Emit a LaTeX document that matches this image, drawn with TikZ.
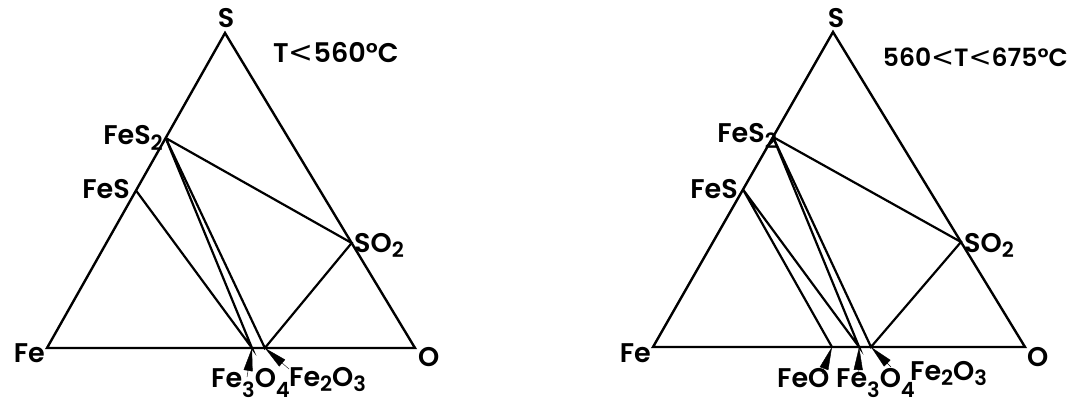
\documentclass[tikz,border=0pt]{standalone}
\usepackage{fontspec}
\setmainfont{Poppins}[UprightFont={* SemiBold}]
\newfontfamily\ltfont{DejaVu Sans}[Scale=1.1]
\usetikzlibrary{arrows.meta,calc}
\newcommand{\chsub}[2][0.22em]{\raisebox{-#1}{\fontsize{21}{21}\selectfont #2}}
\newcommand{\lt}{{\ltfont<}}
\tikzset{edge/.style={line width=2.4pt,line join=miter},tie/.style={line width=2.2pt},
 lbl/.style={inner sep=0pt,font=\fontsize{27}{30}\selectfont},
 heading/.style={inner sep=0pt,font=\fontsize{27}{30}\selectfont},
 pointer/.style={-{Triangle[length=23pt,width=9pt]},line width=.4pt}}

\begin{document}
\begin{tikzpicture}[x=1pt,y=-1pt]
\useasboundingbox (0,0) rectangle (1075,406);
% T < 560 C
\coordinate (lFe) at (47,348);
\coordinate (lO) at (415,348);
\coordinate (lS) at (225,33);
\coordinate (lFeSii) at ($(lFe)!2/3!(lS)$);
\coordinate (lFeS) at ($(lFe)!1/2!(lS)$);
\coordinate (lSOii) at ($(lS)!2/3!(lO)$);
\coordinate (lFeiiiOiv) at ($(lFe)!.557!(lO)$);
\coordinate (lFeiiOiii) at ($(lFe)!.592!(lO)$);
\draw[edge] (lFe)--(lO)--(lS)--cycle;
\draw[tie] (lFeSii)--(lSOii)--(lFeiiOiii)--(lFeSii);
\draw[tie] (lFeSii)--(lFeiiiOiv)--(lFeS);
\node[lbl,anchor=base] (llS) at (226,28) {S};
\node[lbl,anchor=base east] (llFe) at (45,362) {Fe};
\node[lbl,anchor=base west] (llO) at (418,366) {O};
\node[heading,anchor=base west] (ltitle) at (273,63) {T\lt560°C};
\node[lbl,anchor=base east] (llFeSii) at (163,145) {FeS\chsub{2}};
\node[lbl,anchor=base east] (llFeS) at (130,198) {FeS};
\node[lbl,anchor=base west] (llSOii) at (354,252) {SO\chsub{2}};
\node[lbl,anchor=base west] (llFeiiiOiv) at (211,387) {Fe\chsub[.38em]{3}O\chsub[.38em]{4}};
\node[lbl,anchor=base west] (llFeiiOiii) at (289,386) {Fe\chsub{2}O\chsub{3}};
\coordinate (lpFeiiiOiv) at (247,377);
\coordinate (lpFeiiOiii) at (289,369);
\draw[pointer] (lpFeiiiOiv)--(lFeiiiOiv);
\draw[pointer] (lpFeiiOiii)--(lFeiiOiii);
% 560 < T < 675 C
\coordinate (rFe) at (653,347);
\coordinate (rO) at (1025,347);
\coordinate (rS) at (833,32);
\coordinate (rFeSii) at ($(rFe)!2/3!(rS)$);
\coordinate (rFeS) at ($(rFe)!1/2!(rS)$);
\coordinate (rSOii) at ($(rS)!2/3!(rO)$);
\coordinate (rFeO) at ($(rFe)!.481!(rO)$);
\coordinate (rFeiiiOiv) at ($(rFe)!.554!(rO)$);
\coordinate (rFeiiOiii) at ($(rFe)!.586!(rO)$);
\draw[edge] (rFe)--(rO)--(rS)--cycle;
\draw[tie] (rFeSii)--(rSOii)--(rFeiiOiii)--(rFeSii);
\draw[tie] (rFeSii)--(rFeiiiOiv)--(rFeS)--(rFeO);
\node[lbl,anchor=base] (rlS) at (836,28) {S};
\node[lbl,anchor=base east] (rlFe) at (651,362) {Fe};
\node[lbl,anchor=base west] (rlO) at (1027,366) {O};
\node[heading,anchor=base east,font=\fontsize{25}{30}\selectfont] (rtitle) at (1068,67) {560\lt T\lt 675°C};
\node[lbl,anchor=base east] (rlFeSii) at (777,143) {FeS\chsub{2}};
\node[lbl,anchor=base east] (rlFeS) at (738,198) {FeS};
\node[lbl,anchor=base west] (rlSOii) at (964,252) {SO\chsub{2}};
\node[lbl,anchor=base west] (rlFeO) at (777,387) {FeO};
\node[lbl,anchor=base west] (rlFeiiiOiv) at (836,387) {Fe\chsub[.38em]{3}O\chsub[.38em]{4}};
\node[lbl,anchor=base west] (rlFeiiOiii) at (910,380) {Fe\chsub{2}O\chsub{3}};
\coordinate (rpFeO) at (822,374);
\coordinate (rpFeiiiOiv) at (858,376);
\coordinate (rpFeiiOiii) at (891,367);
\draw[pointer] (rpFeO)--(rFeO);
\draw[pointer] (rpFeiiiOiv)--(rFeiiiOiv);
\draw[pointer] (rpFeiiOiii)--(rFeiiOiii);
\end{tikzpicture}
\end{document}
